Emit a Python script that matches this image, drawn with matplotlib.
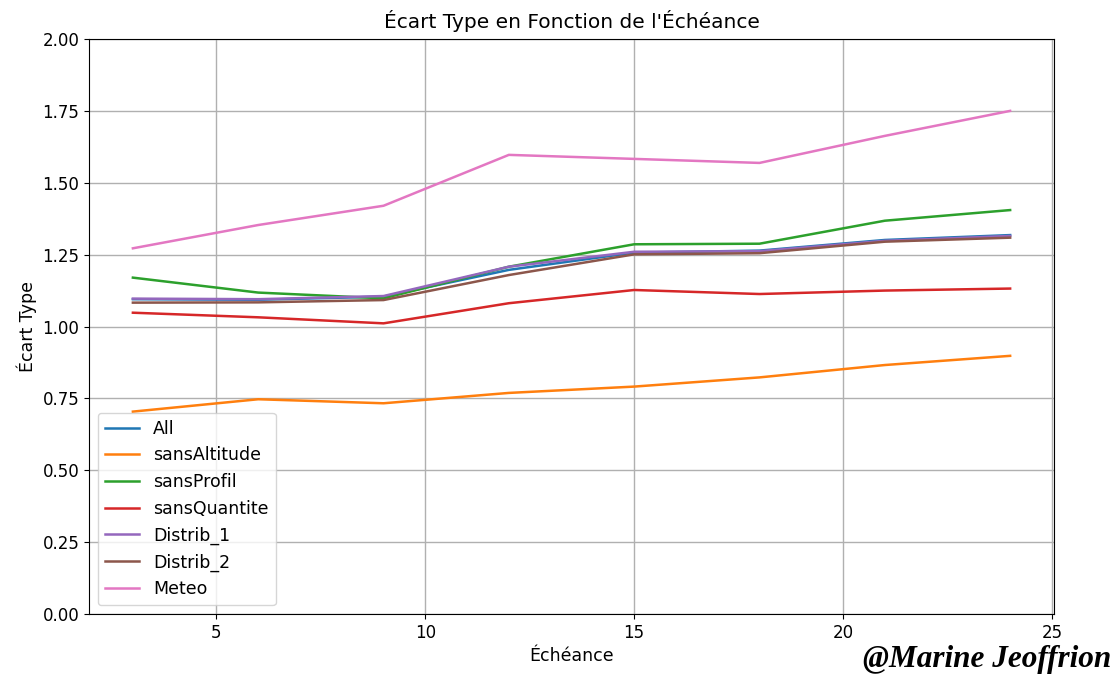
import matplotlib
matplotlib.use("Agg")
import matplotlib.pyplot as plt

# Forecast lead times (hours)
echeances = [3, 6, 9, 12, 15, 18, 21, 24]

# Standard deviation per experiment
all_ = [1.095, 1.093, 1.104, 1.197, 1.257, 1.264, 1.301, 1.318]
sans_altitude = [0.704, 0.747, 0.733, 0.769, 0.791, 0.823, 0.866, 0.898]
sans_profil = [1.170, 1.118, 1.098, 1.208, 1.286, 1.288, 1.368, 1.405]
sans_quantite = [1.048, 1.032, 1.011, 1.081, 1.127, 1.113, 1.125, 1.132]
distrib_1 = [1.097, 1.095, 1.106, 1.208, 1.260, 1.262, 1.298, 1.315]
distrib_2 = [1.083, 1.084, 1.092, 1.179, 1.251, 1.255, 1.295, 1.309]
meteo = [1.272, 1.353, 1.420, 1.597, 1.583, 1.569, 1.663, 1.750]

series = [
    ("All", all_),
    ("sansAltitude", sans_altitude),
    ("sansProfil", sans_profil),
    ("sansQuantite", sans_quantite),
    ("Distrib_1", distrib_1),
    ("Distrib_2", distrib_2),
    ("Meteo", meteo),
]

fig = plt.figure(figsize=(11.17, 6.76), dpi=100)
ax = fig.add_axes([0.0797, 0.0917, 0.8639, 0.8506])

for label, values in series:
    ax.plot(echeances, values, label=label, linewidth=1.8)

ax.set_ylim(0, 2.0)
ax.set_yticks([0, 0.25, 0.5, 0.75, 1.0, 1.25, 1.5, 1.75, 2.0])
ax.set_yticklabels([f"{v:.2f}" for v in ax.get_yticks()])
ax.tick_params(labelsize=12)
ax.grid(True, color="#b0b0b0", linewidth=1.0)

ax.set_title("Écart Type en Fonction de l'Échéance", fontsize=14.5, pad=8)
ax.set_xlabel("Échéance", fontsize=12.5)
ax.set_ylabel("Écart Type", fontsize=12.5)

ax.legend(loc="lower left", fontsize=12.5)

fig.text(0.995, 0.003, "@Marine Jeoffrion", ha="right", va="bottom",
         fontsize=22.5, fontweight="bold", fontstyle="italic",
         family="Liberation Serif", color="black")

fig.savefig("out.png", dpi=100)
